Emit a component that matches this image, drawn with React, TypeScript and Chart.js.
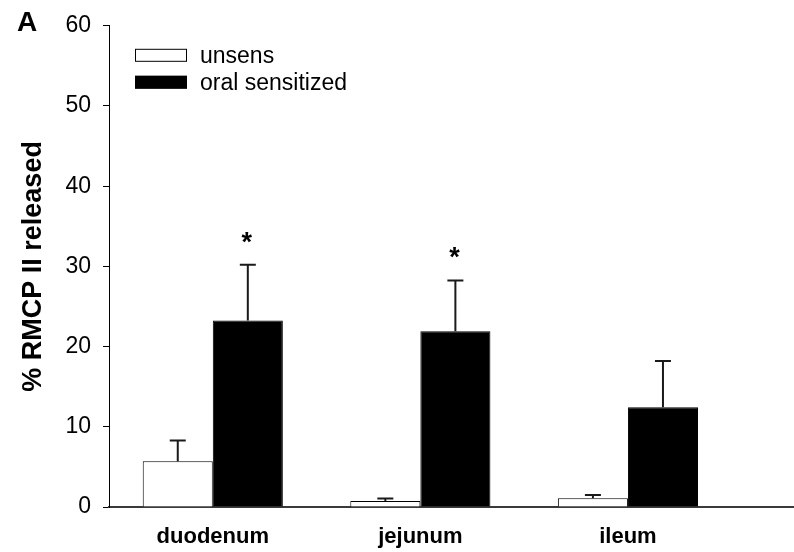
import React, { useEffect, useRef } from 'react';
import { Chart, registerables } from 'chart.js';

Chart.register(...registerables);

const categories = ['duodenum', 'jejunum', 'ileum'];
const seriesLabels = ['unsens', 'oral sensitized'];
const unsensValues = [5.7, 0.75, 1.1];
const unsensErrors = [2.6, 0.3, 0.4];
const sensValues = [23.25, 21.9, 12.45];
const sensErrors = [6.95, 6.35, 5.75];
const sensMarks = ['*', '*', ''];
const yTicks = [0, 10, 20, 30, 40, 50, 60];
const panelLabel = 'A';
const yTitle = '% RMCP II released';

const FONT = '"Liberation Sans", Arial, Helvetica, sans-serif';

const errorsBySeries = [unsensErrors, sensErrors];
const marksBySeries = [null, sensMarks];
const fills = ['#ffffff', '#000000'];

const overlayPlugin = {
  id: 'overlay',
  afterDatasetsDraw(chart: any) {
    const ctx = chart.ctx;
    const yScale = chart.scales.y;
    ctx.save();
    chart.data.datasets.forEach((ds: any, d: number) => {
      const meta = chart.getDatasetMeta(d);
      const errs = errorsBySeries[d];
      const marks = marksBySeries[d];
      meta.data.forEach((bar: any, i: number) => {
        const v = ds.data[i].y;
        const top = yScale.getPixelForValue(v + errs[i]);
        ctx.strokeStyle = '#1a1a1a';
        ctx.lineWidth = 2;
        ctx.beginPath();
        ctx.moveTo(bar.x, bar.y);
        ctx.lineTo(bar.x, top);
        ctx.moveTo(bar.x - 8, top);
        ctx.lineTo(bar.x + 8, top);
        ctx.stroke();
        if (marks && marks[i]) {
          ctx.fillStyle = '#000';
          ctx.font = `bold 27px ${FONT}`;
          ctx.textAlign = 'center';
          ctx.textBaseline = 'alphabetic';
          ctx.fillText(marks[i], bar.x - 1, top - 14);
        }
      });
    });
    ctx.restore();
  },
  afterDraw(chart: any) {
    const ctx = chart.ctx;
    const area = chart.chartArea;
    ctx.save();
    seriesLabels.forEach((label, i) => {
      const bx = area.left + 26;
      const by = area.top + 23 + i * 27;
      ctx.fillStyle = fills[i];
      ctx.fillRect(bx, by, 52, 12.5);
      ctx.strokeStyle = '#000';
      ctx.lineWidth = 1;
      ctx.strokeRect(bx + 0.5, by + 0.5, 51, 12);
      ctx.fillStyle = '#000';
      ctx.font = `23px ${FONT}`;
      ctx.textAlign = 'left';
      ctx.textBaseline = 'alphabetic';
      ctx.fillText(label, bx + 65, by + 14.5);
    });
    ctx.font = `bold 28px ${FONT}`;
    ctx.textAlign = 'left';
    ctx.textBaseline = 'alphabetic';
    ctx.fillText(panelLabel, 17, 31);
    ctx.restore();
  },
};

export default function App() {
  const canvasRef = useRef<HTMLCanvasElement | null>(null);

  useEffect(() => {
    if (!canvasRef.current) return;
    const positions = categories.map((_, i) => i + 1);
    const chart = new Chart(canvasRef.current, {
      type: 'bar',
      data: {
        datasets: [
          {
            label: seriesLabels[0],
            data: positions.map((x, i) => ({ x, y: unsensValues[i] })),
            backgroundColor: fills[0],
            borderColor: '#000',
            borderWidth: 1,
            borderSkipped: 'bottom',
            categoryPercentage: 0.675,
            barPercentage: 1.0,
          },
          {
            label: seriesLabels[1],
            data: positions.map((x, i) => ({ x, y: sensValues[i] })),
            backgroundColor: fills[1],
            borderColor: '#000',
            borderWidth: 1,
            borderSkipped: 'bottom',
            categoryPercentage: 0.675,
            barPercentage: 1.0,
          },
        ],
      },
      options: {
        animation: false,
        responsive: true,
        maintainAspectRatio: false,
        layout: { padding: { top: 23, left: 0, right: 0, bottom: 0 } },
        font: { family: FONT },
        plugins: {
          legend: { display: false },
          tooltip: { enabled: false },
          title: { display: false },
        },
        scales: {
          x: {
            type: 'linear',
            offset: false,
            bounds: 'ticks',
            min: 0.5,
            max: 3.8,
            afterBuildTicks: (scale: any) => {
              scale.ticks = positions.map((v) => ({ value: v }));
            },
            afterFit: (scale: any) => {
              scale.height = 45;
            },
            grid: { display: false, offset: false },
            border: { display: true, color: '#3a3a3a', width: 2 },
            ticks: {
              padding: 9,
              color: '#000',
              maxRotation: 0,
              autoSkip: false,
              font: { family: FONT, size: 22, weight: 'bold' },
              callback: (v: any) => categories[Number(v) - 1] ?? '',
            },
          },
          y: {
            type: 'linear',
            min: 0,
            max: 60,
            afterBuildTicks: (scale: any) => {
              scale.ticks = yTicks.map((v) => ({ value: v }));
            },
            afterFit: (scale: any) => {
              scale.width = 109;
            },
            grid: {
              display: true,
              drawOnChartArea: false,
              drawTicks: true,
              tickLength: 6,
              color: '#000',
              lineWidth: 1,
            },
            border: { display: true, color: '#000', width: 1 },
            ticks: {
              padding: 12,
              color: '#000',
              font: { family: FONT, size: 23 },
            },
            title: {
              display: true,
              text: yTitle,
              color: '#000',
              font: { family: FONT, size: 27, weight: 'bold' },
              padding: { top: 17, bottom: 0 },
            },
          },
        },
      },
      plugins: [overlayPlugin],
    } as any);
    return () => chart.destroy();
  }, []);

  return (
    <div style={{ position: 'fixed', left: 0, top: 0, width: 794, height: 552, background: '#fff' }}>
      <canvas ref={canvasRef} />
    </div>
  );
}
